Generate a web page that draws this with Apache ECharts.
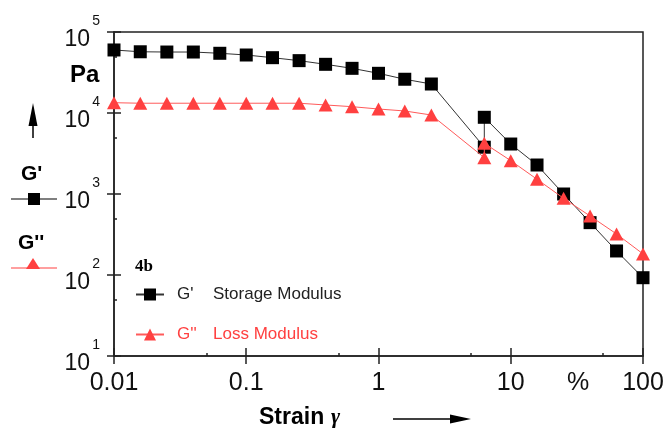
<!DOCTYPE html>
<html>
<head>
<meta charset="utf-8">
<script src="https://cdn.jsdelivr.net/npm/echarts@6/dist/echarts.min.js"></script>
<style>
  html, body { margin: 0; padding: 0; background: #fff; }
  #chart { width: 669px; height: 434px; }
</style>
</head>
<body>
<div id="chart"></div>
<script>
// strain in %
var strain = [0.01, 0.0158, 0.0251, 0.0398, 0.0631, 0.1, 0.158, 0.251, 0.398, 0.631, 1, 1.58, 2.51, 6.31, 6.31, 10, 15.8, 25.1, 39.8, 63.1, 100];
// G' storage modulus, Pa
var gStorage = [60000, 57000, 56600, 56600, 54600, 52000, 48200, 44300, 39900, 35600, 30900, 26100, 22800, 3780, 8850, 4140, 2280, 1000, 443, 198, 92.6];
// G'' loss modulus, Pa
var gLoss = [13400, 13200, 13200, 13200, 13200, 13200, 13200, 13200, 12560, 11970, 11200, 10590, 9440, 2810, 4230, 2580, 1520, 885, 535, 321, 182];

var seriesNames = ["G'", "G''"];
var seriesDesc = ["Storage Modulus", "Loss Modulus"];
var xMinorTicks = [0.05, 0.5, 5, 50];
var yMinorTicks = [50, 500, 5000, 50000];

var font = '"Liberation Sans", Arial, sans-serif';
var axisColor = '#222';
var red = '#ff4040';

function pairs(xs, ys) {
  var out = [];
  for (var i = 0; i < xs.length; i++) out.push([xs[i], ys[i]]);
  return out;
}

var chart = echarts.init(document.getElementById('chart'));

var xBase = { type: 'log', logBase: 10, min: 0.01, max: 100, gridIndex: 0, position: 'bottom', splitLine: { show: false } };
var yBase = { type: 'log', logBase: 10, min: 10, max: 100000, gridIndex: 0, position: 'left', splitLine: { show: false } };

var option = {
  animation: false,
  backgroundColor: '#fff',
  grid: { left: 114, top: 32, right: 26, bottom: 78, show: true, borderColor: axisColor, borderWidth: 1.5, backgroundColor: 'transparent' },
  xAxis: [
    Object.assign({}, xBase, {
      axisLine: { show: true, lineStyle: { color: axisColor, width: 1.5 } },
      axisTick: { show: true, inside: false, length: 8, lineStyle: { color: axisColor, width: 1.5 } },
      axisLabel: { show: true, margin: 15, color: '#111', fontFamily: font, fontSize: 25,
        formatter: function (v) { return String(+v.toPrecision(3)); } }
    }),
    Object.assign({}, xBase, {
      axisLine: { show: false },
      axisTick: { show: true, inside: true, length: 8, lineStyle: { color: axisColor, width: 1.5 } },
      axisLabel: { show: false }
    }),
    Object.assign({}, xBase, {
      axisLine: { show: false },
      axisTick: { show: true, inside: true, length: 3, customValues: xMinorTicks, lineStyle: { color: axisColor, width: 1.5 } },
      axisLabel: { show: false }
    })
  ],
  yAxis: [
    Object.assign({}, yBase, {
      axisLine: { show: true, lineStyle: { color: axisColor, width: 1.5 } },
      axisTick: { show: true, inside: false, length: 7, lineStyle: { color: axisColor, width: 1.5 } },
      axisLabel: { show: true, margin: 14, align: 'right', color: '#111', fontFamily: font,
        formatter: function (v) { return '{e|' + Math.round(Math.log10(v)) + '}\n{b|10}'; },
        rich: {
          e: { fontSize: 14, lineHeight: 16, fontFamily: font, color: '#111' },
          b: { fontSize: 23, lineHeight: 22, fontFamily: font, color: '#111', padding: [0, 10, 0, 0] }
        }
      }
    }),
    Object.assign({}, yBase, {
      axisLine: { show: false },
      axisTick: { show: true, inside: true, length: 7, lineStyle: { color: axisColor, width: 1.5 } },
      axisLabel: { show: false }
    }),
    Object.assign({}, yBase, {
      axisLine: { show: false },
      axisTick: { show: true, inside: true, length: 3, customValues: yMinorTicks, lineStyle: { color: axisColor, width: 1.5 } },
      axisLabel: { show: false }
    })
  ],
  legend: {
    orient: 'vertical', left: 130, top: 281,
    itemWidth: 28, itemHeight: 15, itemGap: 23,
    data: [
      { name: seriesNames[0], textStyle: { color: '#222' } },
      { name: seriesNames[1], textStyle: { color: red } }
    ],
    formatter: function (name) {
      var i = seriesNames.indexOf(name);
      return '{a|' + name + '}{b|' + seriesDesc[i] + '}';
    },
    textStyle: {
      fontFamily: font, fontSize: 17,
      rich: {
        a: { fontFamily: font, fontSize: 17, width: 36, padding: [0, 0, 0, 8] },
        b: { fontFamily: font, fontSize: 17 }
      }
    }
  },
  series: [
    {
      name: seriesNames[0], type: 'line', xAxisIndex: 0, yAxisIndex: 0,
      data: pairs(strain, gStorage), clip: false,
      symbol: 'rect', symbolSize: 13,
      lineStyle: { color: '#333', width: 1 },
      itemStyle: { color: '#000' },
      z: 3
    },
    {
      name: seriesNames[1], type: 'line', xAxisIndex: 0, yAxisIndex: 0,
      data: pairs(strain, gLoss), clip: false,
      symbol: 'triangle', symbolSize: [14, 13],
      lineStyle: { color: '#ff5a5a', width: 1 },
      itemStyle: { color: red },
      z: 4
    }
  ],
  graphic: [
    { type: 'text', left: 70, top: 63, style: { text: 'Pa', font: 'bold 24px ' + font, fill: '#000' } },
    { type: 'line', shape: { x1: 33, y1: 120, x2: 33, y2: 138 }, style: { stroke: '#000', lineWidth: 1.5 } },
    { type: 'polygon', shape: { points: [[33, 103], [28.5, 126], [37.5, 126]] }, style: { fill: '#000' } },
    { type: 'text', left: 21, top: 164, style: { text: "G'", font: 'bold 21px ' + font, fill: '#000' } },
    { type: 'line', shape: { x1: 11, y1: 199, x2: 57, y2: 199 }, style: { stroke: '#000', lineWidth: 1.2 } },
    { type: 'rect', shape: { x: 28, y: 193, width: 12, height: 12 }, style: { fill: '#000' } },
    { type: 'text', left: 18, top: 233, style: { text: "G''", font: 'bold 21px ' + font, fill: '#000' } },
    { type: 'line', shape: { x1: 11, y1: 268, x2: 57, y2: 268 }, style: { stroke: red, lineWidth: 1.2 } },
    { type: 'polygon', shape: { points: [[33, 258], [26, 269], [40, 269]] }, style: { fill: red } },
    { type: 'text', left: 135, top: 258, style: { text: '4b', font: 'bold 17px "Liberation Serif", "Times New Roman", serif', fill: '#000' } },
    { type: 'text', left: 567, top: 371, style: { text: '%', font: '25px ' + font, fill: '#111' } },
    { type: 'text', left: 259, top: 406, style: { text: 'Strain', font: 'bold 23px ' + font, fill: '#000' } },
    { type: 'text', left: 331, top: 406, style: { text: 'γ', font: 'italic bold 22px "Liberation Serif", serif', fill: '#000' } },
    { type: 'line', shape: { x1: 393, y1: 419, x2: 455, y2: 419 }, style: { stroke: '#000', lineWidth: 1.5 } },
    { type: 'polygon', shape: { points: [[450, 414.5], [471, 419], [450, 423.5]] }, style: { fill: '#000' } }
  ]
};

chart.setOption(option);
</script>
</body>
</html>
